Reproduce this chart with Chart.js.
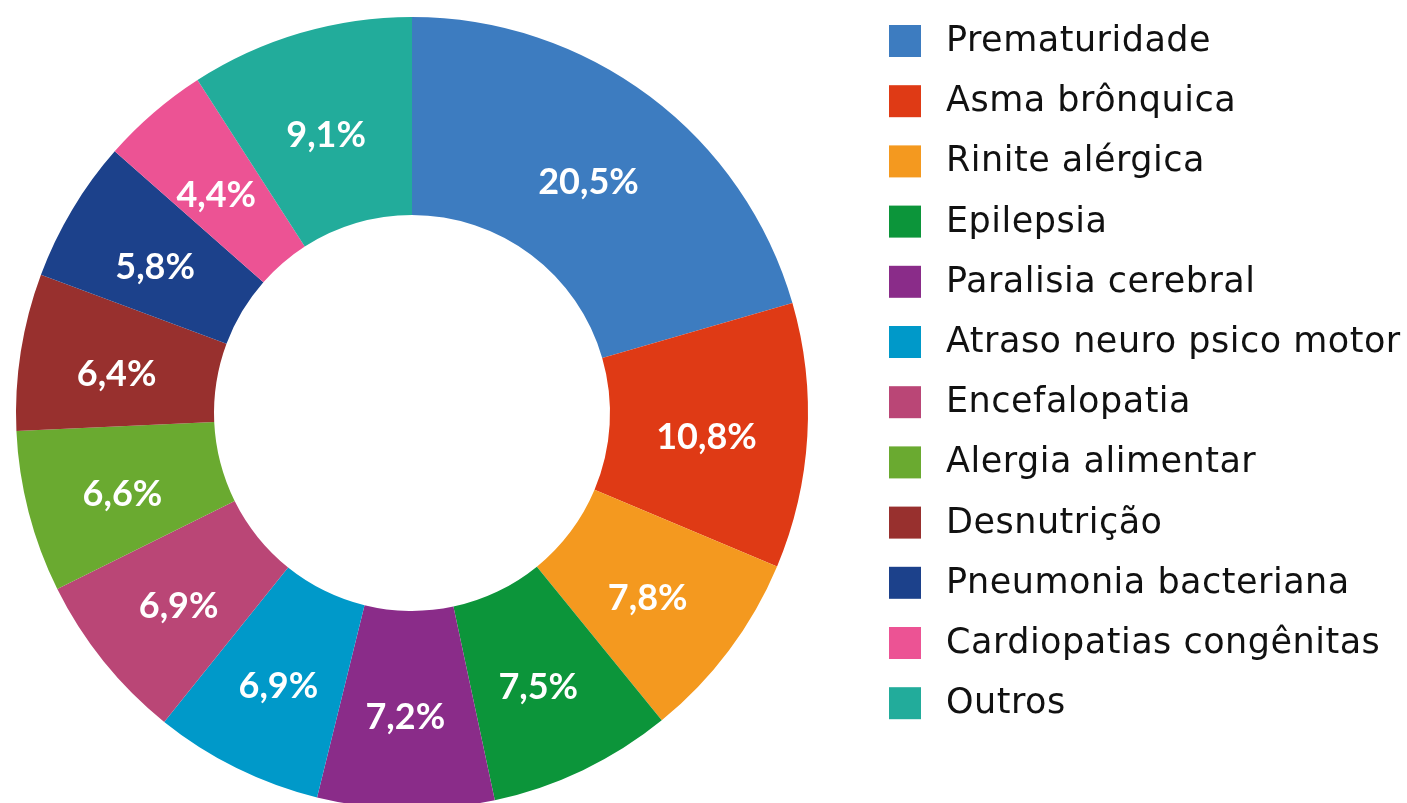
<!DOCTYPE html>
<html>
<head>
<meta charset="utf-8">
<script src="https://cdn.jsdelivr.net/npm/chart.js@4/dist/chart.umd.min.js"></script>
<style>
  html, body { margin: 0; padding: 0; background: #fff; overflow: hidden; }
  #wrap { position: absolute; left: 0; top: 0; width: 1407px; height: 830px; }
</style>
</head>
<body>
<div id="wrap"><canvas id="chart" width="1407" height="830"></canvas></div>
<script>
// dados do gráfico
const labels = [
  "Prematuridade",
  "Asma brônquica",
  "Rinite alérgica",
  "Epilepsia",
  "Paralisia cerebral",
  "Atraso neuro psico motor",
  "Encefalopatia",
  "Alergia alimentar",
  "Desnutrição",
  "Pneumonia bacteriana",
  "Cardiopatias congênitas",
  "Outros",
];
const valores = [20.5, 10.8, 7.8, 7.5, 7.2, 6.9, 6.9, 6.6, 6.4, 5.8, 4.4, 9.1];
const cores = [
  "#3d7cc0", // azul
  "#df3a15", // vermelho
  "#f4991f", // laranja
  "#0c953a", // verde
  "#8a2c89", // roxo
  "#0099c9", // ciano
  "#ba4676", // rosa escuro
  "#6aaa30", // verde claro
  "#98302e", // vinho
  "#1c418b", // azul escuro
  "#ec5394", // rosa
  "#22ac9b", // verde-água
];

const labelFont = '"Lato", "DejaVu Sans", sans-serif';
const legendFont = '"DejaVu Sans", sans-serif';

// rótulos de porcentagem dentro das fatias
const percentLabels = {
  id: "percentLabels",
  afterDatasetsDraw(chart) {
    const ctx = chart.ctx;
    const meta = chart.getDatasetMeta(0);
    ctx.save();
    ctx.fillStyle = "#ffffff";
    ctx.font = "bold 36px " + labelFont;
    ctx.textAlign = "center";
    ctx.textBaseline = "middle";
    meta.data.forEach((arc, i) => {
      const pos = arc.tooltipPosition();
      const txt = valores[i].toFixed(1).replace(".", ",") + "%";
      ctx.fillText(txt, pos.x - 2, pos.y + 7);
    });
    ctx.restore();
  },
};

// legenda à direita
const sideLegend = {
  id: "sideLegend",
  afterDraw(chart) {
    const ctx = chart.ctx;
    const bg = chart.data.datasets[0].backgroundColor;
    const x0 = 889;
    const y0 = 41;
    const step = 60.2;
    const box = 32;
    ctx.save();
    ctx.font = "35px " + legendFont;
    ctx.letterSpacing = "0.5px";
    ctx.textBaseline = "middle";
    ctx.textAlign = "left";
    chart.data.labels.forEach((lbl, i) => {
      const cy = y0 + i * step;
      ctx.fillStyle = bg[i];
      ctx.fillRect(x0, cy - box / 2, box, box);
      ctx.fillStyle = "#111111";
      ctx.fillText(lbl, x0 + 57, cy + 1);
    });
    ctx.restore();
  },
};

new Chart(document.getElementById("chart"), {
  type: "doughnut",
  data: {
    labels: labels,
    datasets: [
      {
        data: valores,
        backgroundColor: cores,
        borderWidth: 0,
      },
    ],
  },
  options: {
    responsive: false,
    animation: false,
    cutout: "50%",
    layout: {
      padding: { left: 16, right: 599, top: 17, bottom: 21 },
    },
    plugins: {
      legend: { display: false },
      tooltip: { enabled: false },
    },
  },
  plugins: [percentLabels, sideLegend],
});
</script>
</body>
</html>
